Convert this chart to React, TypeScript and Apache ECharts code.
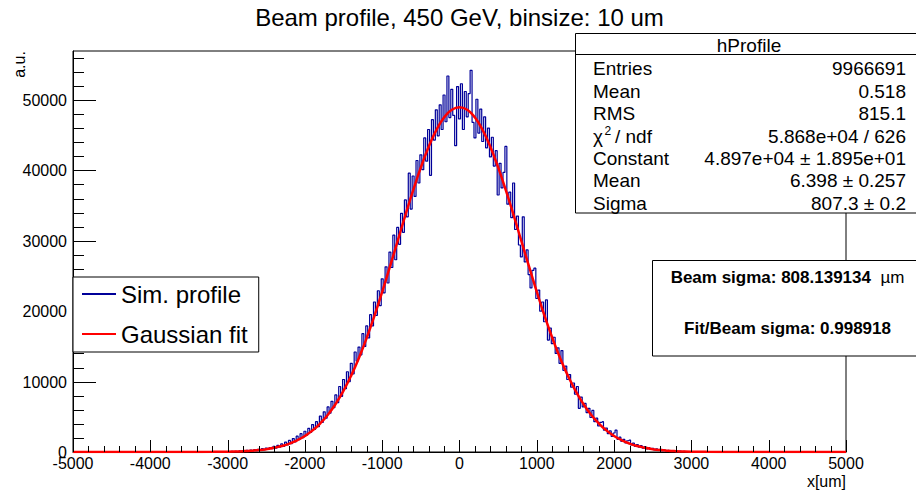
import React, { useEffect, useRef } from "react";
import * as echarts from "echarts";

// ---- data ----
const histStart = -3000; // first bin centre (um)
const histStep = 25; // bin spacing used here (um)
const histCounts = [
  60, 30, 90, 40, 110, 70, 150, 90, 180, 110, 230, 140, 260, 170, 330, 200, 390, 260, 470, 310,
  560, 380, 640, 470, 820, 540, 950, 680, 1150, 780, 1400, 1000, 1650, 1200, 1900, 1450, 2250, 1750, 2600, 2050,
  2950, 2400, 3350, 2800, 3900, 3200, 4300, 3600, 5100, 4200, 5700, 4800, 6400, 5500, 7200, 6300, 8100, 7000, 9300, 7900,
  10300, 9000, 11400, 10000, 12600, 11100, 14200, 12900, 14900, 13800, 16800, 15000, 17900, 16200, 19500, 17900, 21300, 19400, 22900, 20800,
  24600, 22600, 26300, 24000, 28400, 26200, 30800, 27300, 31900, 29500, 33900, 31200, 35800, 33400, 39600, 34500, 39200, 36300, 41400, 38200,
  42200, 40100, 44600, 41300, 45800, 39300, 47200, 44300, 48600, 44900, 49300, 45800, 50700, 46900, 53400, 47500, 51500, 47800, 43500, 51900,
  47300, 52300, 45800, 51200, 47600, 50900, 54200, 46800, 44600, 50100, 45300, 48700, 44100, 47600, 43200, 46000, 41900, 44700, 40600, 42800,
  36500, 41000, 37500, 39700, 43400, 35200, 36900, 33300, 38200, 31600, 33500, 29400, 27700, 33400, 27000, 28700, 25200, 23300, 25800, 26100,
  21800, 23000, 20000, 21300, 18500, 21600, 15900, 17600, 15400, 16300, 14000, 14800, 12600, 14400, 11600, 12200, 10300, 11000, 9200, 9800,
  8200, 9300, 6200, 7800, 6400, 6900, 5600, 6200, 4900, 5900, 4300, 4800, 3700, 4200, 4300, 3100, 3400, 2600, 3000, 2200,
  2700, 3100, 1800, 2100, 1500, 1800, 1300, 1600, 1700, 1000, 1250, 800, 1050, 680, 900, 560, 760, 450, 620, 380,
  520, 300, 430, 250, 360, 200, 290, 160, 230, 120, 190, 100, 150, 80, 120, 60, 90, 50, 70, 30,
  50,
];

const fitX = [
  -5000, -4000, -3500, -3200,
  -3000, -2900, -2800, -2700, -2600, -2500, -2400, -2300, -2200, -2100,
  -2000, -1900, -1800, -1700, -1600, -1500, -1400, -1300, -1200, -1100,
  -1000, -900, -800, -700, -600, -500, -400, -300, -200, -100,
  0,
  100, 200, 300, 400, 500, 600, 700, 800, 900, 1000,
  1100, 1200, 1300, 1400, 1500, 1600, 1700, 1800, 1900, 2000,
  2100, 2200, 2300, 2400, 2500, 2600, 2700, 2800, 2900, 3000,
  3200, 3500, 4000, 5000,
];
const fitY = [
  0, 0, 4, 19,
  49, 77, 120, 182, 274, 405, 590, 846, 1195, 1662,
  2276, 3068, 4077, 5333, 6871, 8714, 10886, 13388, 16224, 19349,
  22737, 26331, 29970, 33652, 37154, 40414, 43313, 45703, 47490, 48596,
  48970,
  48596, 47490, 45703, 43313, 40414, 37154, 33652, 29970, 26331, 22737,
  19349, 16224, 13388, 10886, 8714, 6871, 5333, 4077, 3068, 2276,
  1662, 1195, 846, 590, 405, 274, 182, 120, 77, 49,
  19, 4, 0, 0,
];

const xTickLabels = [-5000, -4000, -3000, -2000, -1000, 0, 1000, 2000, 3000, 4000, 5000];
const yTickLabels = [0, 10000, 20000, 30000, 40000, 50000];

const xMin = -5000;
const xMax = 5000;
const xInterval = 1000;
const xMinorStep = 200;
const yMin = 0;
const yMax = 56950;
const yMajor = 10000;
const yMinor = 2000;

const titleText = "Beam profile, 450 GeV, binsize: 10 um";
const xName = "x[um]";
const yName = "a.u.";
const legendNames = ["Sim. profile", "Gaussian fit"];
const statsTitle = "hProfile";
const statLabels = ["Entries", "Mean", "RMS", "", "Constant", "Mean", "Sigma"];
const statValues = [
  "9966691",
  "0.518",
  "815.1",
  "5.868e+04 / 626",
  "4.897e+04 \u00b1 1.895e+01",
  "6.398 \u00b1 0.257",
  "807.3 \u00b1 0.2",
];
const beamText1 = "Beam sigma: 808.139134";
const beamUnit = "\u00b5m";
const beamText2 = "Fit/Beam sigma: 0.998918";

const FONT = "'Liberation Sans', Arial, Helvetica, sans-serif";
const noSplit = { show: true, lineStyle: { color: "rgba(0,0,0,0)", width: 0 } };

export default function App() {
  const ref = useRef<HTMLDivElement>(null);

  useEffect(() => {
    if (!ref.current) return;
    const chart = echarts.init(ref.current, undefined, { renderer: "svg" });

    const histData: number[][] = [[xMin, 0], [histStart - histStep, 0]];
    histCounts.forEach((v, i) => histData.push([histStart + i * histStep, v]));
    histData.push([histStart + histCounts.length * histStep, 0], [xMax, 0]);

    const fitData = fitX.map((x, i) => [x, fitY[i]]);

    // axis tick marks: [value, kind] kind 0 = x major, 1 = x minor, 2 = y major, 3 = y minor
    const tickData: number[][] = [];
    for (let v = xMin; v <= xMax; v += xMinorStep) {
      tickData.push([v, (v - xMin) % xInterval === 0 ? 0 : 1]);
    }
    for (let v = yMin + yMinor; v < yMax; v += yMinor) {
      tickData.push([v, v % yMajor === 0 ? 2 : 3]);
    }

    const option: any = {
      animation: false,
      backgroundColor: "#fff",
      grid: {
        left: 73,
        top: 51,
        right: 70,
        bottom: 40,
        show: true,
        borderColor: "#000",
        borderWidth: 1,
      },
      legend: {
        data: legendNames,
        orient: "vertical",
        left: 73,
        top: 277,
        padding: [5, 11, 6, 8],
        itemWidth: 34,
        itemHeight: 14,
        itemGap: 16,
        itemStyle: { opacity: 0 },
        backgroundColor: "#fff",
        borderColor: "#000",
        borderWidth: 1,
        borderRadius: 0,
        textStyle: { fontSize: 24, color: "#000", fontFamily: FONT },
        z: 50,
      },
      xAxis: {
        type: "value",
        min: xMin,
        max: xMax,
        interval: xInterval,
        axisLine: { show: true, onZero: false, lineStyle: { color: "#000", width: 1 } },
        axisTick: { show: false },
        axisLabel: { show: false },
        splitLine: noSplit,
      },
      yAxis: {
        type: "value",
        min: yMin,
        max: yMax,
        interval: yMajor,
        position: "left",
        axisLine: { show: true, onZero: false, lineStyle: { color: "#000", width: 1 } },
        axisTick: { show: false },
        axisLabel: { show: false },
        splitLine: noSplit,
      },
      series: [
        {
          type: "line",
          name: legendNames[0],
          data: histData,
          step: "middle",
          symbol: "none",
          lineStyle: { color: "#000099", width: 1.2 },
          itemStyle: { color: "#000099" },
        },
        {
          type: "line",
          name: legendNames[1],
          data: fitData,
          smooth: true,
          symbol: "none",
          lineStyle: { color: "#ff0000", width: 2.5 },
          itemStyle: { color: "#ff0000" },
        },
        {
          type: "custom",
          name: "ticks",
          data: tickData,
          clip: false,
          silent: true,
          z: 4,
          renderItem: (_params: any, api: any) => {
            const v = api.value(0);
            const kind = api.value(1);
            if (kind < 2) {
              const p = api.coord([v, yMin]);
              const len = kind === 0 ? 12 : 6;
              const x = Math.round(p[0]) + 0.5;
              return {
                type: "line",
                shape: { x1: x, y1: p[1], x2: x, y2: p[1] - len },
                style: { stroke: "#000", lineWidth: 1 },
              };
            }
            const p = api.coord([xMin, v]);
            const len = kind === 2 ? 23 : 11;
            const y = Math.round(p[1]) + 0.5;
            return {
              type: "line",
              shape: { x1: p[0], y1: y, x2: p[0] + len, y2: y },
              style: { stroke: "#000", lineWidth: 1 },
            };
          },
        },
      ],
    };

    chart.setOption(option);

    // tick labels placed through the chart's own axis scales
    const labelEls: any[] = [];
    xTickLabels.forEach((v) => {
      const px = chart.convertToPixel({ xAxisIndex: 0 }, v) as number;
      labelEls.push({
        type: "text",
        x: px,
        y: 463.5,
        style: { text: String(v), font: `16px ${FONT}`, fill: "#000", textAlign: "center", textVerticalAlign: "middle" },
      });
    });
    yTickLabels.forEach((v) => {
      const py = chart.convertToPixel({ yAxisIndex: 0 }, v) as number;
      labelEls.push({
        type: "text",
        x: 67,
        y: py + 0.5,
        style: { text: String(v), font: `16px ${FONT}`, fill: "#000", textAlign: "right", textVerticalAlign: "middle" },
      });
    });

    const rowY0 = 68.8;
    const rowDy = 22.4;
    const statsEls: any[] = [];
    statLabels.forEach((lab, i) => {
      if (lab) {
        statsEls.push({
          type: "text",
          x: 593,
          y: rowY0 + i * rowDy,
          z: 101,
          style: { text: lab, font: `19px ${FONT}`, fill: "#000", textAlign: "left", textVerticalAlign: "middle" },
        });
      }
      statsEls.push({
        type: "text",
        x: 906,
        y: rowY0 + i * rowDy,
        z: 101,
        style: { text: statValues[i], font: `19px ${FONT}`, fill: "#000", textAlign: "right", textVerticalAlign: "middle" },
      });
    });
    const chiY = rowY0 + 3 * rowDy;
    statsEls.push(
      { type: "text", x: 593, y: chiY, z: 101, style: { text: "\u03c7", font: `19px ${FONT}`, fill: "#000", textAlign: "left", textVerticalAlign: "middle" } },
      { type: "text", x: 604.5, y: chiY - 5, z: 101, style: { text: "2", font: `12px ${FONT}`, fill: "#000", textAlign: "left", textVerticalAlign: "middle" } },
      { type: "text", x: 615, y: chiY, z: 101, style: { text: "/ ndf", font: `19px ${FONT}`, fill: "#000", textAlign: "left", textVerticalAlign: "middle" } }
    );

    chart.setOption({
      graphic: [
        ...labelEls,
        {
          type: "text",
          x: 459.5,
          y: 17,
          style: { text: titleText, font: `24px ${FONT}`, fill: "#000", textAlign: "center", textVerticalAlign: "middle" },
        },
        {
          type: "text",
          x: 19,
          y: 64.5,
          rotation: Math.PI / 2,
          style: { text: yName, font: `16px ${FONT}`, fill: "#000", textAlign: "center", textVerticalAlign: "middle" },
        },
        {
          type: "text",
          x: 846,
          y: 481,
          style: { text: xName, font: `16px ${FONT}`, fill: "#000", textAlign: "right", textVerticalAlign: "middle" },
        },
        {
          type: "rect",
          z: 100,
          shape: { x: 575.5, y: 33.5, width: 345, height: 179.5 },
          style: { fill: "#fff", stroke: "#000", lineWidth: 1 },
        },
        {
          type: "line",
          z: 101,
          shape: { x1: 575.5, y1: 54.5, x2: 920, y2: 54.5 },
          style: { stroke: "#000", lineWidth: 1 },
        },
        {
          type: "text",
          x: 749,
          y: 45,
          z: 101,
          style: { text: statsTitle, font: `19px ${FONT}`, fill: "#000", textAlign: "center", textVerticalAlign: "middle" },
        },
        ...statsEls,
        {
          type: "rect",
          z: 100,
          shape: { x: 652.5, y: 260.5, width: 270, height: 95.5 },
          style: { fill: "#fff", stroke: "#000", lineWidth: 1 },
        },
        {
          type: "text",
          x: 787.5,
          y: 277,
          z: 101,
          style: {
            text: `{b|${beamText1}  }{n|${beamUnit}}`,
            rich: {
              b: { fontFamily: FONT, fontSize: 17, fontWeight: "bold", fill: "#000", color: "#000" },
              n: { fontFamily: FONT, fontSize: 17, fontWeight: "normal", fill: "#000", color: "#000" },
            },
            textAlign: "center",
            textVerticalAlign: "middle",
          },
        },
        {
          type: "text",
          x: 787.5,
          y: 328,
          z: 101,
          style: { text: beamText2, font: `bold 17px ${FONT}`, fill: "#000", textAlign: "center", textVerticalAlign: "middle" },
        },
      ],
    });

    return () => chart.dispose();
  }, []);

  return (
    <div
      ref={ref}
      style={{ position: "fixed", left: 0, top: 0, width: 916, height: 492, background: "#fff" }}
    />
  );
}
